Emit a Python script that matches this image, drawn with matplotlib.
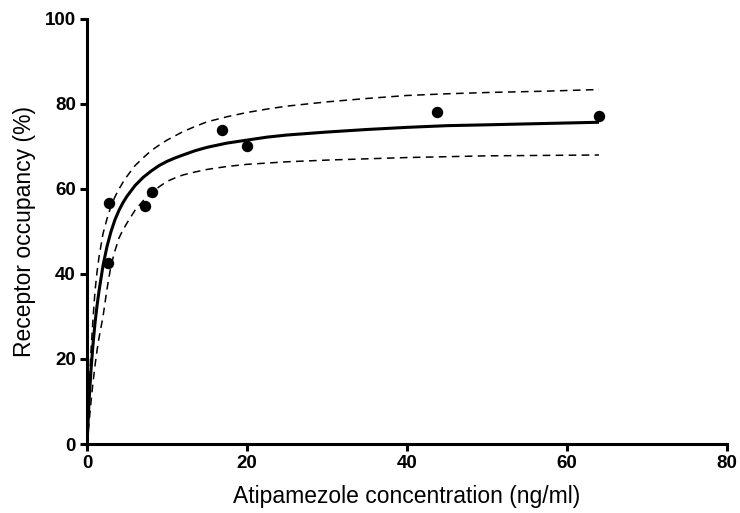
import matplotlib.pyplot as plt

# measured points
conc = [2.7, 2.65, 7.3, 8.1, 16.9, 20.0, 43.8, 64.0]
occupancy = [56.6, 42.5, 56.0, 59.2, 73.8, 70.2, 78.2, 77.2]

# fitted curve and 95% band
curve_x = [0, 0.25, 0.5, 0.75, 1, 1.25, 1.5, 2, 2.5, 3, 3.5, 4, 4.5, 5, 6, 7, 8, 9, 10, 11, 12,
           13.5, 15, 17.5, 20, 22.5, 25, 30, 35, 40, 45, 50, 57, 64]
fit_y = [0, 10, 17.5, 23.5, 28.5, 32.5, 36, 42, 46.5, 50, 52.8, 55, 56.8, 58.3, 60.8, 62.7,
         64.2, 65.5, 66.5, 67.3, 68, 69, 69.8, 70.8, 71.5, 72.2, 72.7, 73.4, 74.0, 74.5,
         74.9, 75.1, 75.4, 75.7]
upper_y = [0, 13, 22, 29.5, 36, 40.5, 44, 49.5, 53, 56, 58.2, 60, 61.6, 63, 65.5, 67.3, 69,
           70.3, 71.5, 72.5, 73.5, 74.7, 75.8, 77, 78, 78.8, 79.5, 80.5, 81.3, 82, 82.4,
           82.7, 83.0, 83.4]
lower_y = [0, 5, 10, 14.5, 18.5, 22, 25, 30, 36.5, 42, 45.5, 48.5, 50.4, 52, 55, 57.2, 59,
           60.5, 61.8, 62.6, 63.3, 64.0, 64.6, 65.3, 65.8, 66.1, 66.4, 66.8, 67.1, 67.4,
           67.6, 67.8, 67.9, 68.0]

plt.rcParams['font.family'] = ['Liberation Sans', 'DejaVu Sans']

fig = plt.figure(figsize=(7.4, 5.13), dpi=100)
ax = fig.add_axes([0.1176, 0.1345, 0.8648, 0.8285])

ax.plot(curve_x, fit_y, color='black', lw=2.2, solid_capstyle='butt')
ax.plot(curve_x, upper_y, color='black', lw=1.1, dashes=(5, 3.5))
ax.plot(curve_x, lower_y, color='black', lw=1.1, dashes=(5, 3.5))
ax.plot(conc, occupancy, 'o', color='black', ms=7.2, clip_on=False)

ax.set_xlim(0, 80)
ax.set_ylim(0, 100)
ax.set_xticks([0, 20, 40, 60, 80])
ax.set_yticks([0, 20, 40, 60, 80, 100])

for s in ['top', 'right']:
    ax.spines[s].set_visible(False)
for s in ['left', 'bottom']:
    ax.spines[s].set_linewidth(2.2)

ax.tick_params(width=2.2, length=5, direction='out', labelsize=13.5, pad=3)
for lab in ax.get_xticklabels() + ax.get_yticklabels():
    lab.set_fontweight('bold')

ax.set_xlabel('Atipamezole concentration (ng/ml)', fontsize=16.5, labelpad=9)
ax.set_ylabel('Receptor occupancy (%)', fontsize=16.5, labelpad=6)

fig.savefig('out.png', dpi=100)
